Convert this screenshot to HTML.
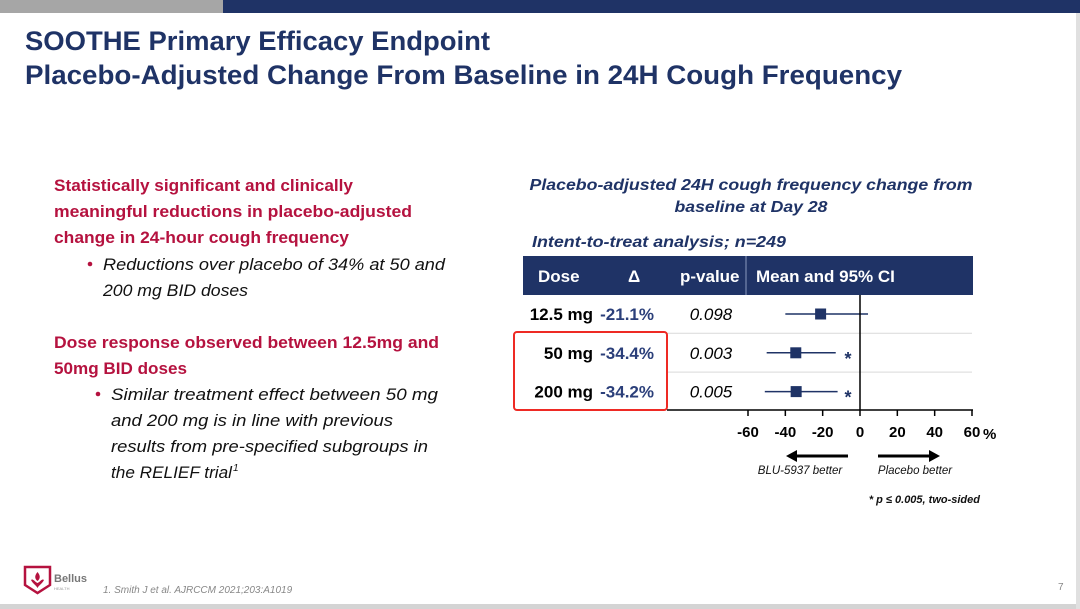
<!DOCTYPE html>
<html><head><meta charset="utf-8"><style>
html,body{margin:0;padding:0;background:#fff;}
svg{display:block;font-family:"Liberation Sans",sans-serif;}
</style></head><body>
<svg width="1080" height="609" viewBox="0 0 1080 609" xmlns="http://www.w3.org/2000/svg">
<rect x="0" y="0" width="1080" height="609" fill="#fff"/>
<rect x="0" y="0" width="223" height="13" fill="#a6a6a6"/>
<rect x="223" y="0" width="857" height="13" fill="#1f3366"/>
<rect x="0" y="604" width="1080" height="5" fill="#d4d4d4"/>
<rect x="1076" y="13" width="4" height="596" fill="#e0e0e0"/>

<g fill="#1f3366" font-weight="bold" font-size="27">
<text x="25" y="50" textLength="465" lengthAdjust="spacingAndGlyphs">SOOTHE Primary Efficacy Endpoint</text>
<text x="25" y="84" textLength="877" lengthAdjust="spacingAndGlyphs">Placebo-Adjusted Change From Baseline in 24H Cough Frequency</text>
</g>

<g font-size="17">
<g fill="#b5123f" font-weight="bold">
<text x="54" y="191" textLength="299" lengthAdjust="spacingAndGlyphs">Statistically significant and clinically</text>
<text x="54" y="217" textLength="358" lengthAdjust="spacingAndGlyphs">meaningful reductions in placebo-adjusted</text>
<text x="54" y="243" textLength="295" lengthAdjust="spacingAndGlyphs">change in 24-hour cough frequency</text>
<text x="54" y="348" textLength="385" lengthAdjust="spacingAndGlyphs">Dose response observed between 12.5mg and</text>
<text x="54" y="374" textLength="133" lengthAdjust="spacingAndGlyphs">50mg BID doses</text>
</g>
<g fill="#111" font-style="italic">
<circle cx="90" cy="264" r="2.3" fill="#b5123f"/>
<text x="103" y="270" textLength="342" lengthAdjust="spacingAndGlyphs">Reductions over placebo of 34% at 50 and</text>
<text x="103" y="296" textLength="145" lengthAdjust="spacingAndGlyphs">200 mg BID doses</text>
<circle cx="98" cy="394" r="2.3" fill="#b5123f"/>
<text x="111" y="400" textLength="327" lengthAdjust="spacingAndGlyphs">Similar treatment effect between 50 mg</text>
<text x="111" y="426" textLength="282" lengthAdjust="spacingAndGlyphs">and 200 mg is in line with previous</text>
<text x="111" y="452" textLength="317" lengthAdjust="spacingAndGlyphs">results from pre-specified subgroups in</text>
<text x="111" y="478" textLength="121" lengthAdjust="spacingAndGlyphs">the RELIEF trial</text>
<text x="233" y="471" font-size="10">1</text>
</g>
</g>

<g fill="#1f3366" font-weight="bold" font-style="italic" font-size="16">
<text x="751" y="190" text-anchor="middle" textLength="443" lengthAdjust="spacingAndGlyphs">Placebo-adjusted 24H cough frequency change from</text>
<text x="751" y="212" text-anchor="middle" textLength="153" lengthAdjust="spacingAndGlyphs">baseline at Day 28</text>
<text x="532" y="247" textLength="254" lengthAdjust="spacingAndGlyphs">Intent-to-treat analysis; n=249</text>
</g>

<g>
<rect x="523" y="256" width="450" height="39" fill="#1f3366"/>
<line x1="746" y1="256" x2="746" y2="295" stroke="#8a9abf" stroke-width="1"/>
<g fill="#fff" font-weight="bold" font-size="17">
<text x="538" y="282">Dose</text>
<text x="628" y="282">Δ</text>
<text x="680" y="282">p-value</text>
<text x="756" y="282">Mean and 95% CI</text>
</g>
</g>

<g id="rows"></g>
<g id="plot"></g>

<rect x="514" y="332" width="153" height="78" rx="3" fill="none" stroke="#ee2a24" stroke-width="2"/>

<g>
<line x1="848" y1="456" x2="795" y2="456" stroke="#000" stroke-width="3"/>
<polygon points="786,456 797,450 797,462" fill="#000"/>
<line x1="878" y1="456" x2="931" y2="456" stroke="#000" stroke-width="3"/>
<polygon points="940,456 929,450 929,462" fill="#000"/>
<g font-size="11.5" font-style="italic" fill="#111">
<text x="800" y="474" text-anchor="middle">BLU-5937 better</text>
<text x="915" y="474" text-anchor="middle">Placebo better</text>
</g>
</g>
<text x="980" y="503" text-anchor="end" font-size="11" font-weight="bold" font-style="italic" fill="#111">* p ≤ 0.005, two-sided</text>

<g>
<path d="M25 567 H50 V585 L37.5 593 L25 585 Z" fill="none" stroke="#b5123f" stroke-width="2.5"/>
<path d="M37.5 572 C34 576 35 579 37.5 581 C40 579 41 576 37.5 572 Z M31 580 C33 578 35 582 37.5 583 C40 582 42 578 44 580 C42 584 39 585 37.5 588 C36 585 33 584 31 580 Z" fill="#b5123f"/>
<text x="54" y="582" font-size="11" font-weight="bold" fill="#777">Bellus</text>
<text x="54" y="590" font-size="4" fill="#999">HEALTH</text>
</g>
<text x="103" y="593" font-size="10" font-style="italic" fill="#888">1. Smith J et al. AJRCCM 2021;203:A1019</text>
<text x="1058" y="590" font-size="10" fill="#888">7</text>

<script>
const doses = ['12.5 mg', '50 mg', '200 mg'];
const deltas = ['-21.1%', '-34.4%', '-34.2%'];
const pvalues = ['0.098', '0.003', '0.005'];
const means = [-21.1, -34.4, -34.2];
const ciLow = [-40, -50, -51];
const ciHigh = [4.3, -13, -12];
const significant = [false, true, true];
const ticks = [-60, -40, -20, 0, 20, 40, 60];

const NS = 'http://www.w3.org/2000/svg';
const x = v => 860 + (v / 60) * 112;
const rowY = i => 314 + i * 38.8;
function mk(tag, attrs, parent, txt) {
  const e = document.createElementNS(NS, tag);
  for (const k in attrs) e.setAttribute(k, attrs[k]);
  if (txt !== undefined) e.textContent = txt;
  parent.appendChild(e);
  return e;
}
const rows = document.getElementById('rows');
const plot = document.getElementById('plot');
for (let i = 0; i < doses.length; i++) {
  const y = rowY(i);
  if (i > 0) {
    const sep = mk('line', {x1: 667, x2: 972, y1: y - 19.5, y2: y - 19.5, stroke: '#d9d9d9', 'stroke-width': 1}, rows);
    
    
  }
  const d = mk('text', {x: 593, y: y + 6, 'text-anchor': 'end', 'font-size': 17, 'font-weight': 'bold', fill: '#000'}, rows, doses[i]);
  
  
  const dl = mk('text', {x: 654, y: y + 6, 'text-anchor': 'end', 'font-size': 17, 'font-weight': 'bold', fill: '#2b3f7a'}, rows, deltas[i]);
  
  
  const p = mk('text', {x: 711, y: y + 6, 'text-anchor': 'middle', 'font-size': 17, 'font-style': 'italic', fill: '#000'}, rows, pvalues[i]);
  
  

  const ci = mk('line', {x1: x(ciLow[i]), x2: x(ciHigh[i]), y1: y, y2: y, stroke: '#1f3366', 'stroke-width': 1.5}, plot);
  
  
  const m = mk('rect', {x: x(means[i]) - 5.5, y: y - 5.5, width: 11, height: 11, fill: '#1f3366'}, plot);
  
  
  if (significant[i]) {
    const s = mk('text', {x: 848, y: y + 12, 'text-anchor': 'middle', 'font-size': 18, 'font-weight': 'bold', fill: '#1f3366'}, plot, '*');
    
    
  }
}
const zero = mk('line', {x1: x(0), x2: x(0), y1: 295, y2: 410, stroke: '#000', 'stroke-width': 1.5}, plot);


const axis = mk('line', {x1: 667, x2: 973, y1: 410, y2: 410, stroke: '#000', 'stroke-width': 1.5}, plot);


ticks.forEach(t => {
  const tk = mk('line', {x1: x(t), x2: x(t), y1: 410, y2: 416, stroke: '#000', 'stroke-width': 1.5}, plot);
  
  
  const lb = mk('text', {x: x(t), y: 437, 'text-anchor': 'middle', 'font-size': 15, 'font-weight': 'bold', fill: '#000'}, plot, String(t));
  
  
});
const pct = mk('text', {x: 983, y: 439, 'font-size': 15, 'font-weight': 'bold', fill: '#000'}, plot, '%');


</script>
</svg>
</body></html>
